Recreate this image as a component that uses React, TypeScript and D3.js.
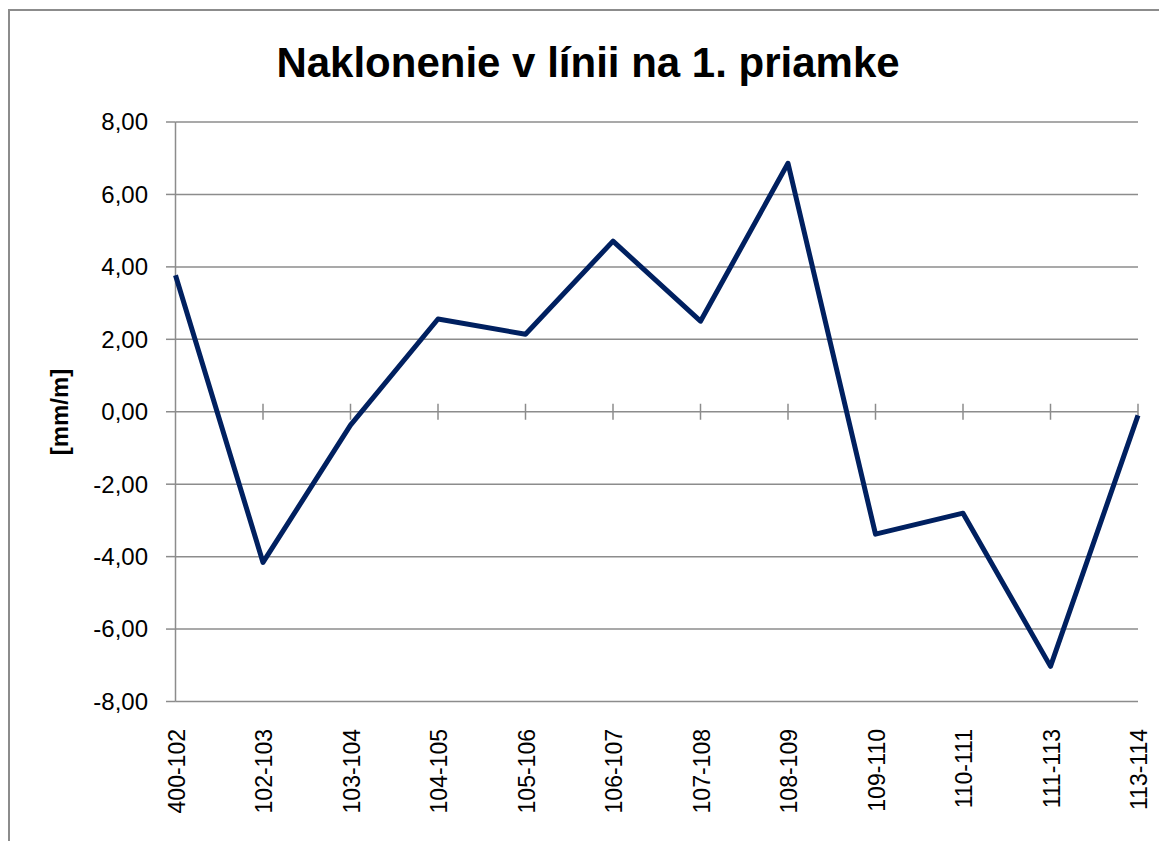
import React from "react";
import * as d3 from "d3";

const categories = ["400-102","102-103","103-104","104-105","105-106","106-107","107-108","108-109","109-110","110-111","111-113","113-114"];
const values = [3.77, -4.16, -0.37, 2.56, 2.14, 4.71, 2.50, 6.86, -3.38, -2.80, -7.03, -0.10];
const yTicks = [8, 6, 4, 2, 0, -2, -4, -6, -8];
const titleText = "Naklonenie v línii na 1. priamke";
const yLabel = "[mm/m]";

const W = 1159, H = 841;
const left = 175.5, right = 1138, top = 122, bottom = 701.5;
const FONT = "'Liberation Sans', Arial, sans-serif";

export default function App() {
  const x = d3.scalePoint<string>().domain(categories).range([left, right]);
  const y = d3.scaleLinear().domain([-8, 8]).range([bottom, top]);
  const line = d3.line<number>().x((_, i) => x(categories[i])!).y(d => y(d));
  const fmt = (v: number) => v.toFixed(2).replace(".", ",");
  return (
    <svg width={W} height={H} style={{ position: "absolute", left: 0, top: 0 }}>
      <rect x={0} y={0} width={W} height={H} fill="#fff" />
      <rect x={9} y={10} width={W + 20} height={H + 20} fill="none" stroke="#8c8c8c" strokeWidth={2} />
      <text x={588} y={77} textAnchor="middle" fontFamily={FONT} fontWeight="bold" fontSize={42} fill="#000">{titleText}</text>
      {yTicks.map(t => (
        <g key={t}>
          <line x1={left} x2={right} y1={y(t)} y2={y(t)} stroke="#8c8c8c" strokeWidth={1.5} />
          <line x1={166} x2={left} y1={y(t)} y2={y(t)} stroke="#8c8c8c" strokeWidth={1.5} />
          <text x={148} y={y(t)} dy="0.35em" textAnchor="end" fontFamily={FONT} fontSize={24} fill="#000">{fmt(t)}</text>
        </g>
      ))}
      <line x1={left} x2={left} y1={top} y2={bottom} stroke="#8c8c8c" strokeWidth={1.5} />
      {categories.map(c => (
        <g key={c}>
          {c !== categories[0] && (
            <line x1={x(c)} x2={x(c)} y1={y(0) - 8} y2={y(0) + 8} stroke="#8c8c8c" strokeWidth={1.5} />
          )}
          <text transform={`translate(${x(c)! + 1},${729}) rotate(-90)`} dy="0.35em" textAnchor="end" fontFamily={FONT} fontSize={23} fill="#000">{c}</text>
        </g>
      ))}
      <text transform={`translate(60,412) rotate(-90)`} dy="0.35em" textAnchor="middle" fontFamily={FONT} fontWeight="bold" fontSize={24} fill="#000">{yLabel}</text>
      <path d={line(values)!} fill="none" stroke="#002060" strokeWidth={5} strokeLinejoin="round" />
    </svg>
  );
}
